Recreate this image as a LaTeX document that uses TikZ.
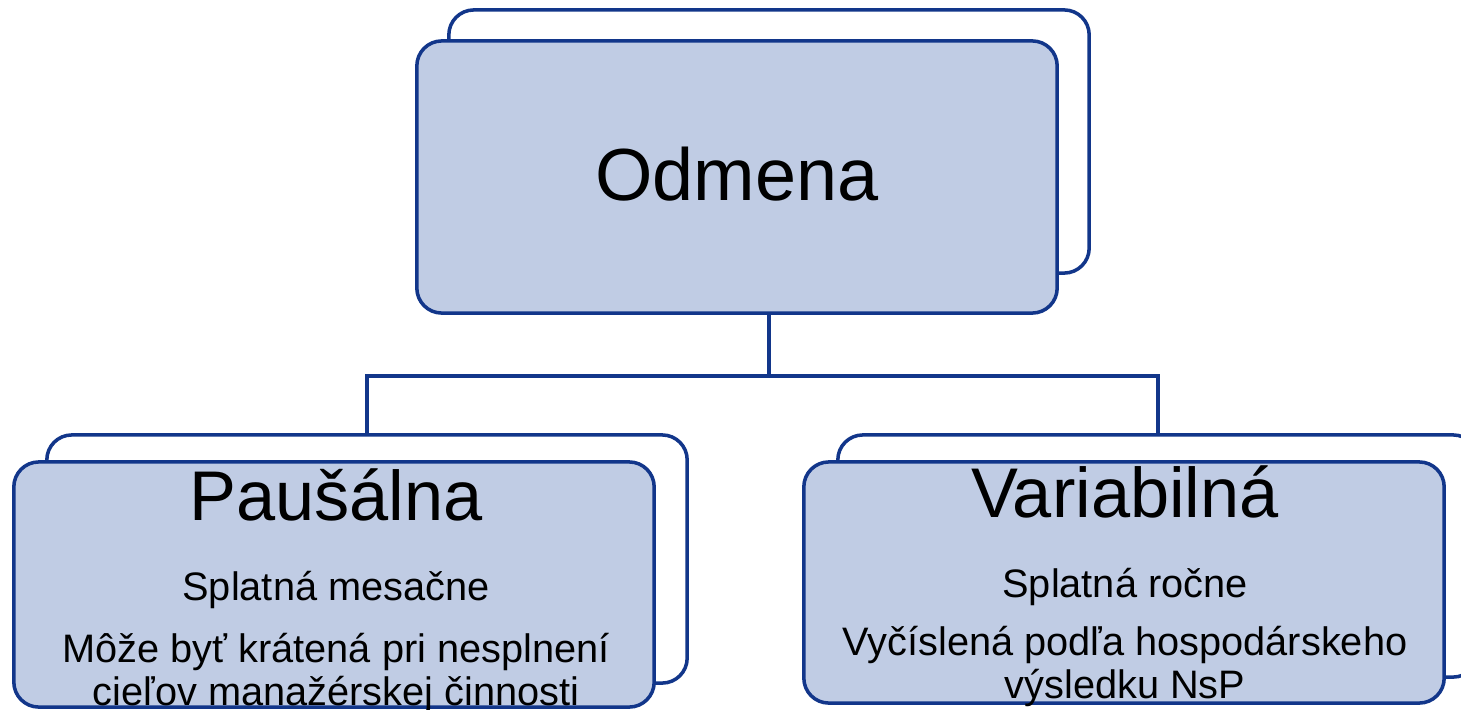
\documentclass[tikz,border=0pt]{standalone}
\usepackage{fontspec}
\setmainfont{Liberation Sans}
\usepackage{tikz}
\usetikzlibrary{shapes,arrows}
\definecolor{bord}{RGB}{18,54,138}
\definecolor{boxfill}{RGB}{192,204,228}
\tikzstyle{frontbox}=[draw=bord,line width=1pt,fill=boxfill,rounded corners=0.25cm,minimum width=6.4cm,inner sep=0pt]
\tikzstyle{backbox}=[draw=bord,line width=1pt,fill=white,rounded corners=0.25cm,minimum width=6.4cm,inner sep=0pt]
\tikzstyle{titletext}=[anchor=base,inner sep=0pt,font=\fontsize{20}{22}\selectfont]
\tikzstyle{subtext}=[anchor=base,inner sep=0pt,align=center,font=\fontsize{11.3}{12}\selectfont]

\begin{document}
\begin{tikzpicture}[x=0.01cm,y=-0.01cm]
\useasboundingbox (0,0) rectangle (1461,709);
\clip (0,0) rectangle (1461,709);
% back boxes
\node[backbox, minimum height=2.63cm] (odmenaB) at (769,141.5) {};
\node[backbox, minimum height=2.48cm] (pausalB) at (367,559) {};
\node[backbox, minimum height=2.42cm] (variabB) at (1158,556) {};
% connectors
\coordinate (split) at (769,376);
\draw[bord, line width=1pt] (odmenaB.south) -- (split);
\draw[bord, line width=1pt] (pausalB.north) |- (split) -| (variabB.north);
% front boxes
\node[frontbox, minimum height=2.72cm] (odmena) at (737,177) {};
\node[frontbox, minimum height=2.45cm] (pausal) at (334,584.5) {};
\node[frontbox, minimum height=2.41cm] (variab) at (1124,582.5) {};
% texts
\node[titletext, font=\fontsize{21}{23}\selectfont] (odmenaT) at (737,200) {Odmena};
\node[titletext] (pausalT) at (336,520) {Paušálna};
\node[titletext] (variabT) at (1125,517) {Variabilná};
\node[subtext] (pausalA) at (336,600) {Splatná mesačne};
\node[subtext] (pausalB2) at (336,705) {Môže byť krátená pri nesplnení\\cieľov manažérskej činnosti};
\node[subtext] (variabA) at (1125,597) {Splatná ročne};
\node[subtext] (variabB2) at (1125,698) {Vyčíslená podľa hospodárskeho\\výsledku NsP};
%\draw[bord] (odmena) -- (pausal);
%\draw[bord] (odmena) -- (variab);
\end{tikzpicture}
\end{document}
